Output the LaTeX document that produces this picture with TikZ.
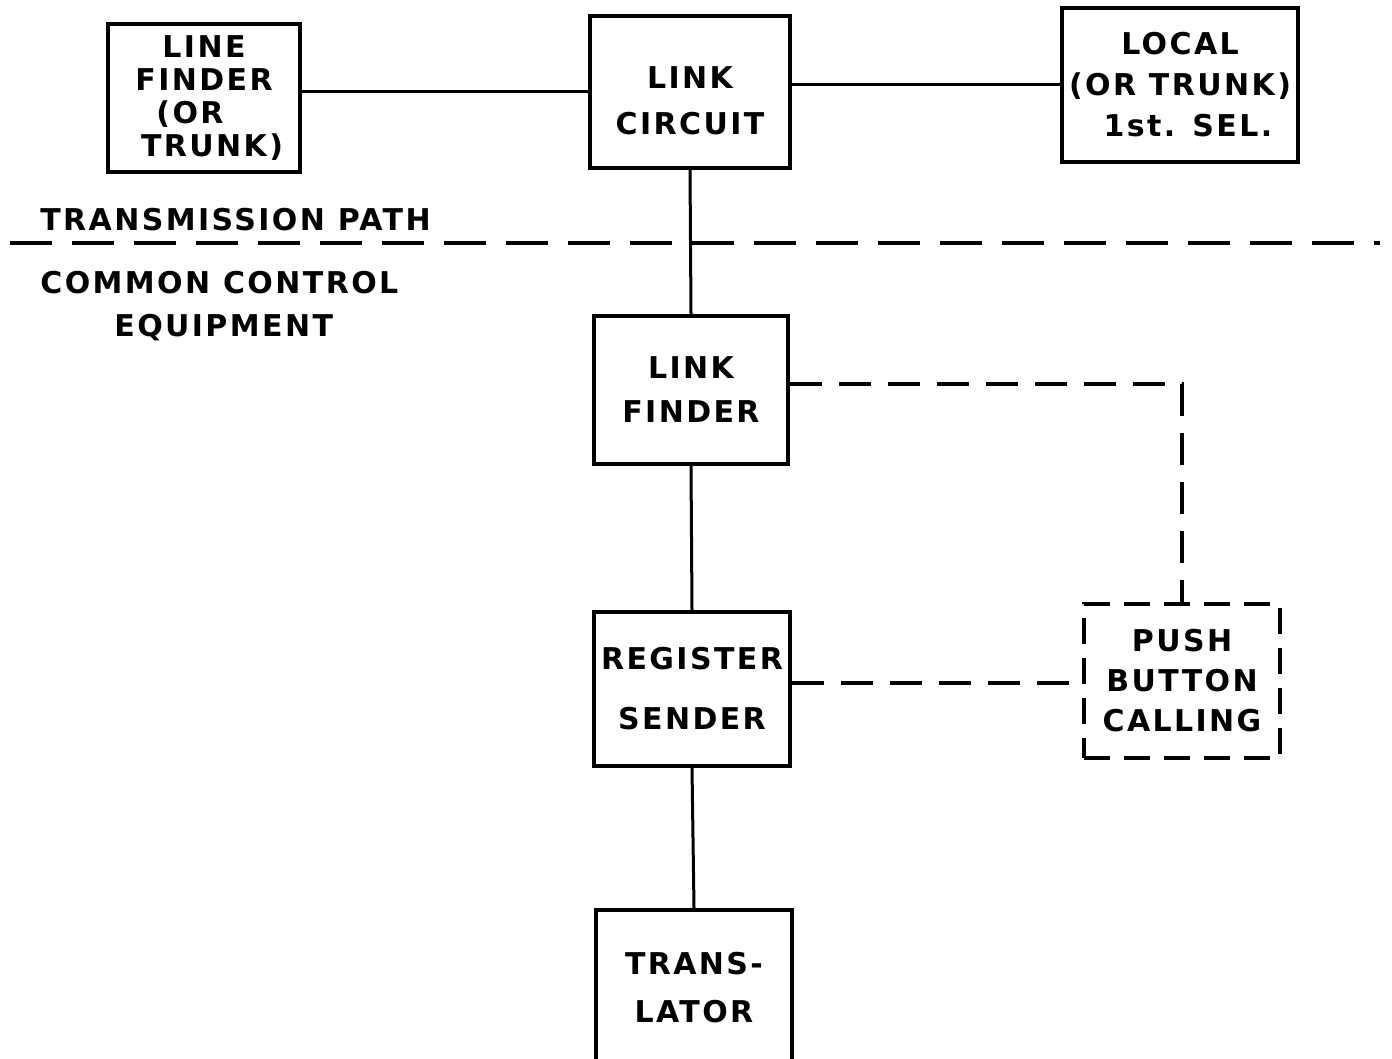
\documentclass[tikz,border=0pt]{standalone}
\usepackage{fontspec}
\newfontfamily\labfont[LetterSpace=8]{DejaVu Sans}
\begin{document}
\begin{tikzpicture}[x=0.5pt,y=-0.5pt,
  box/.style={draw, line width=2pt, inner sep=0pt, align=center,
    font=\labfont\bfseries\fontsize{15}{#1}\selectfont},
  box/.default=22pt,
  dbox/.style={box=#1, dash pattern=on 13pt off 7pt},
  conn/.style={line width=1.5pt},
  dconn/.style={line width=1.8pt, dash pattern=on 16pt off 8.5pt},
  sep/.style={line width=2.3pt, dash pattern=on 21pt off 10pt},
  lab/.style={anchor=west, inner sep=0pt, font=\labfont\bfseries\fontsize{15}{18}\selectfont}]
\useasboundingbox (0,0) rectangle (1392,1059);
\clip (0,0) rectangle (1392,1059);
\fill[white] (0,0) rectangle (1392,1059);

% boxes
\node[box=16.5pt, minimum width=96pt, minimum height=74pt] (lf) at (204,98) {LINE\\FINDER\\(OR\kern 14pt\\\kern 8pt TRUNK)};
\node[box=23pt, minimum width=100pt, minimum height=76pt] (lc) at (690,92) {\rule{0pt}{20pt}LINK\\CIRCUIT};
\node[box=20.5pt, minimum width=118pt, minimum height=77pt] (loc) at (1180,85) {LOCAL\\(OR TRUNK)\\\kern 8pt 1st. SEL.};
\node[box=22pt, minimum width=97pt, minimum height=74pt] (lkf) at (691,390) {LINK\\FINDER};
\node[box=30pt, minimum width=98pt, minimum height=77pt] (reg) at (692,689) {REGISTER\\SENDER};
\node[box=24pt, minimum width=98pt, minimum height=78pt] (tr) at (694,988) {TRANS-\\LATOR};
\node[dbox=20pt, minimum width=98pt, minimum height=77pt] (pb) at (1182,681) {PUSH\\BUTTON\\CALLING};

% labels
\node[lab] (tp) at (40,220) {TRANSMISSION PATH};
\node[lab] (cc) at (40,283) {COMMON CONTROL};
\node[lab] (eq) at (114,328) {EQUIPMENT};

% divider
\coordinate (sepL) at (10,243);
\coordinate (sepR) at (1380,243);
\draw[sep] (sepL) -- (sepR);

% connectors
\draw[conn] (lf.east |- lc.west) -- (lc.west);
\draw[conn] (lc.east |- loc.west) -- (loc.west);
\draw[conn] (lc.south) -- (lkf.north);
\draw[conn] (lkf.south) -- (reg.north);
\draw[conn] (reg.south) -- (tr.north);
\draw[dconn] ([yshift=3pt]lkf.east) -- ([yshift=3pt]lkf.east -| pb.north) -- (pb.north);
\draw[dconn] ([yshift=3pt]reg.east) -- ([yshift=3pt]reg.east -| pb.west);
\end{tikzpicture}
\end{document}
